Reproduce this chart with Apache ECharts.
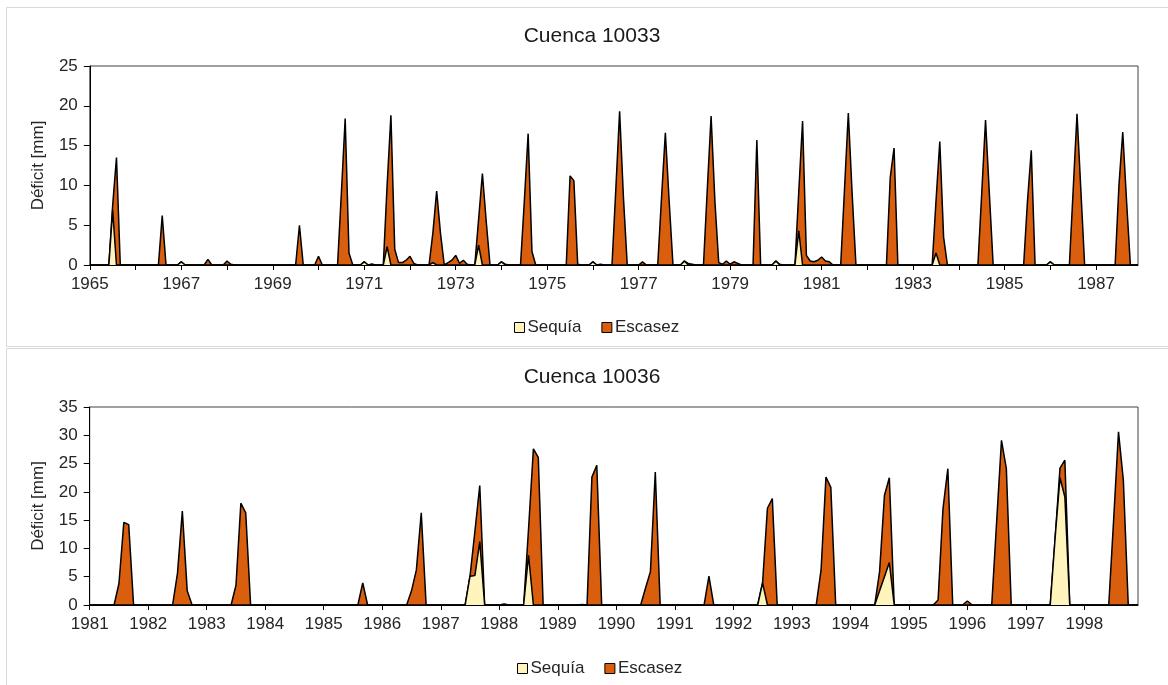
<!DOCTYPE html>
<html>
<head>
<meta charset="utf-8">
<script src="https://cdn.jsdelivr.net/npm/echarts@6/dist/echarts.min.js"></script>
<style>
html,body{margin:0;padding:0;background:#fff;}
#chart{width:1168px;height:685px;}
</style>
</head>
<body>
<div id="chart"></div>
<script>
// ---------- Cuenca 10033 (monthly, Jan 1965 - Dec 1987) ----------
const years1 = [1965,1966,1967,1968,1969,1970,1971,1972,1973,1974,1975,1976,1977,1978,1979,1980,1981,1982,1983,1984,1985,1986,1987];
const escasez1 = [
  0,0,0,0,0,0,7.5,13.5,0,0,0,0,          // 1965
  0,0,0,0,0,0,0,6.2,0,0,0,0,             // 1966
  0.4,0,0,0,0,0,0,0.7,0,0,0,0,           // 1967
  0.5,0.1,0,0,0,0,0,0,0,0,0,0,           // 1968
  0,0,0,0,0,0,0,5.0,0,0,0,0,             // 1969
  1.1,0,0,0,0,0,9,18.4,1.5,0,0,0,        // 1970
  0.4,0,0.1,0,0,0,10,18.8,2,0.3,0.3,0.6, // 1971
  1.1,0.2,0,0,0,0,4,9.3,4,0,0.3,0.6,     // 1972
  1.2,0.2,0.6,0.1,0,0,5.7,11.5,5.5,0,0,0,// 1973
  0.4,0.1,0,0,0,0,8,16.5,1.7,0,0,0,      // 1974
  0,0,0,0,0,0,11.2,10.6,0.1,0,0,0,       // 1975
  0.4,0,0.1,0,0,0,9.5,19.3,8.5,0,0,0,    // 1976
  0,0.4,0,0,0,0,8.5,16.6,8,0,0,0,        // 1977
  0.5,0.2,0.1,0,0,0,9.5,18.7,8,0.3,0.1,0.5, // 1978
  0.1,0.4,0.2,0,0,0,0,15.7,0,0,0,0,      // 1979
  0.5,0.1,0,0,0,0,9.2,18.1,1.2,0.5,0.4,0.6, // 1980
  1.0,0.5,0.4,0,0,0,9.5,19.1,9,0,0,0,    // 1981
  0,0,0,0,0,0,11,14.7,0,0,0,0,           // 1982
  0,0,0,0,0,0,8,15.5,3.5,0,0,0,          // 1983
  0,0,0,0,0,0,9,18.2,9,0,0,0,            // 1984
  0,0,0,0,0,0,8,14.4,0,0,0,0,            // 1985
  0.4,0,0,0,0,0,9.5,19,9.5,0,0,0,        // 1986
  0,0,0,0,0,0,10,16.7,8,0,0,0            // 1987
];
const sequia1 = [
  0,0,0,0,0,0,6.9,0,0,0,0,0,   // 1965
  0,0,0,0,0,0,0,0,0,0,0,0,     // 1966
  0.4,0,0,0,0,0,0,0,0,0,0,0,   // 1967
  0,0,0,0,0,0,0,0,0,0,0,0,     // 1968
  0,0,0,0,0,0,0,0,0,0,0,0,     // 1969
  0,0,0,0,0,0,0,0,0,0,0,0,     // 1970
  0.4,0,0.1,0,0,0,2.3,0,0,0,0,0, // 1971
  0,0,0,0,0,0,0.3,0,0,0,0,0,   // 1972
  0,0,0,0,0,0,2.5,0,0,0,0,0,   // 1973
  0.4,0,0,0,0,0,0,0,0,0,0,0,   // 1974
  0,0,0,0,0,0,0,0,0,0,0,0,     // 1975
  0.4,0,0,0,0,0,0,0,0,0,0,0,   // 1976
  0,0,0,0,0,0,0,0,0,0,0,0,     // 1977
  0.5,0,0,0,0,0,0,0,0,0,0,0,   // 1978
  0,0,0,0,0,0,0,0,0,0,0,0,     // 1979
  0.5,0,0,0,0,0,4.3,0,0,0,0,0, // 1980
  0,0,0,0,0,0,0,0,0,0,0,0,     // 1981
  0,0,0,0,0,0,0,0,0,0,0,0,     // 1982
  0,0,0,0,0,0,1.5,0,0,0,0,0,   // 1983
  0,0,0,0,0,0,0,0,0,0,0,0,     // 1984
  0,0,0,0,0,0,0,0,0,0,0,0,     // 1985
  0.4,0,0,0,0,0,0,0,0,0,0,0,   // 1986
  0,0,0,0,0,0,0,0,0,0,0,0      // 1987
];

// ---------- Cuenca 10036 (monthly, Jan 1981 - Dec 1998) ----------
const years2 = [1981,1982,1983,1984,1985,1986,1987,1988,1989,1990,1991,1992,1993,1994,1995,1996,1997,1998];
const escasez2 = [
  0,0,0,0,0,0,3.8,14.6,14.2,0,0,0,     // 1981
  0,0,0,0,0,0,5.6,16.6,2.5,0,0,0,      // 1982
  0,0,0,0,0,0,3.5,18.0,16.3,0,0,0,     // 1983
  0,0,0,0,0,0,0,0,0,0,0,0,             // 1984
  0,0,0,0,0,0,0,0,3.9,0,0,0,           // 1985
  0,0,0,0,0,0,2.5,6.2,16.3,0,0,0,      // 1986
  0,0,0,0,0,0,5.1,13,21.1,0,0,0,       // 1987
  0,0.15,0,0,0,0,13.4,27.6,26.1,0,0,0, // 1988
  0,0,0,0,0,0.1,0,22.6,24.7,0,0,0,     // 1989
  0,0,0,0,0,0,3,5.9,23.5,0,0,0,        // 1990
  0,0,0,0,0,0,0,5.1,0,0,0,0,           // 1991
  0,0,0,0,0,0,3.9,17.1,18.8,0,0,0,     // 1992
  0,0,0,0,0,0,6.2,22.6,20.8,0,0,0,     // 1993
  0,0,0,0,0,0,5.9,19.4,22.5,0,0,0,     // 1994
  0,0,0,0,0,0,0.9,17,24.1,0,0,0,       // 1995
  0.7,0,0,0,0,0,14.6,29.1,24.1,0,0,0,  // 1996
  0,0,0,0,0,0,11.8,24.2,25.6,0,0,0,    // 1997
  0,0,0,0,0,0,15,30.6,22,0,0,0         // 1998
];
const sequia2 = [
  0,0,0,0,0,0,0,0,0,0,0,0,       // 1981
  0,0,0,0,0,0,0,0,0,0,0,0,       // 1982
  0,0,0,0,0,0,0,0,0,0,0,0,       // 1983
  0,0,0,0,0,0,0,0,0,0,0,0,       // 1984
  0,0,0,0,0,0,0,0,0,0,0,0,       // 1985
  0,0,0,0,0,0,0,0,0,0,0,0,       // 1986
  0,0,0,0,0,0,5.1,5.2,11.2,0,0,0,// 1987
  0,0.15,0,0,0,0,8.8,0,0,0,0,0,  // 1988
  0,0,0,0,0,0,0,0,0,0,0,0,       // 1989
  0,0,0,0,0,0,0,0,0,0,0,0,       // 1990
  0,0,0,0,0,0,0,0,0,0,0,0,       // 1991
  0,0,0,0,0,0,3.9,0,0,0,0,0,     // 1992
  0,0,0,0,0,0,0,0,0,0,0,0,       // 1993
  0,0,0,0,0,0,2.5,5,7.5,0,0,0,   // 1994
  0,0,0,0,0,0,0,0,0,0,0,0,       // 1995
  0,0,0,0,0,0,0,0,0,0,0,0,       // 1996
  0,0,0,0,0,0,11.8,22.5,19.1,0,0,0, // 1997
  0,0,0,0,0,0,0,0,0,0,0,0        // 1998
];

const titles = ['Cuenca 10033', 'Cuenca 10036'];
const yName = 'Déficit [mm]';
const seriesNames = ['Sequía', 'Escasez'];

function months(years){
  const out = [];
  years.forEach(y => { for (let m = 1; m <= 12; m++) out.push(y + '-' + (m < 10 ? '0' + m : m)); });
  return out;
}
const cats1 = months(years1);
const cats2 = months(years2);

const FONT = 'Liberation Sans';
const TXT = '#262626';
const C_SEQ = '#FFF5BC';
const C_ESC = '#D95F0E';

function xAxis(gridIndex, cats, labelEvery){
  return {
    type: 'category', gridIndex, data: cats, boundaryGap: false,
    axisLine: {lineStyle: {color: '#000', width: 1}},
    axisTick: {show: true, length: 5, interval: (i) => i % 12 === 0, lineStyle: {color: '#000'}},
    axisLabel: {interval: (i) => i % (12 * labelEvery) === 0, formatter: v => v.slice(0, 4),
      color: TXT, fontFamily: FONT, fontSize: 17, margin: 11},
    splitLine: {show: false}
  };
}
function yAxis(gridIndex, max){
  return {
    type: 'value', gridIndex, min: 0, max, interval: 5,
    name: yName, nameLocation: 'middle', nameGap: 43,
    nameTextStyle: {color: TXT, fontFamily: FONT, fontSize: 17},
    axisLine: {show: true, lineStyle: {color: '#000', width: 1}},
    axisTick: {show: true, length: 6, lineStyle: {color: '#000'}},
    axisLabel: {color: TXT, fontFamily: FONT, fontSize: 17, margin: 12},
    splitLine: {show: false}
  };
}
function area(name, data, idx, color, z){
  return {
    name, type: 'line', xAxisIndex: idx, yAxisIndex: idx, data,
    symbol: 'none', smooth: false, z,
    lineStyle: {color: '#000', width: 1.5},
    itemStyle: {color: color, borderColor: '#000', borderWidth: 1},
    areaStyle: {color: color, opacity: 1}
  };
}

const chart = echarts.init(document.getElementById('chart'), null, {renderer: 'canvas'});
chart.setOption({
  backgroundColor: '#fff',
  animation: false,
  graphic: [
    {type: 'rect', shape: {x: 6.5, y: 7.5, width: 1180, height: 339}, style: {fill: 'none', stroke: '#d9d9d9', lineWidth: 1}, z: -10},
    {type: 'rect', shape: {x: 6.5, y: 348.5, width: 1180, height: 400}, style: {fill: 'none', stroke: '#d9d9d9', lineWidth: 1}, z: -10}
  ],
  title: [
    {text: titles[0], left: 587, top: 21, textAlign: 'center', textStyle: {fontFamily: FONT, fontSize: 21, fontWeight: 'normal', color: '#1a1a1a'}},
    {text: titles[1], left: 587, top: 362, textAlign: 'center', textStyle: {fontFamily: FONT, fontSize: 21, fontWeight: 'normal', color: '#1a1a1a'}}
  ],
  legend: [
    {data: seriesNames, left: 509, top: 314, icon: 'rect', itemWidth: 10, itemHeight: 10, itemGap: 20,
     textStyle: {fontFamily: FONT, fontSize: 17, color: TXT, padding: [0, 0, 0, -2]},
     itemStyle: {borderColor: '#000', borderWidth: 1}},
    {data: seriesNames, left: 512, top: 655, icon: 'rect', itemWidth: 10, itemHeight: 10, itemGap: 20,
     textStyle: {fontFamily: FONT, fontSize: 17, color: TXT, padding: [0, 0, 0, -2]},
     itemStyle: {borderColor: '#000', borderWidth: 1}}
  ],
  grid: [
    {left: 89.8, right: 30, top: 66, height: 199, show: true, borderColor: '#404040', borderWidth: 1, backgroundColor: '#fff'},
    {left: 89.7, right: 30, top: 407, height: 198, show: true, borderColor: '#404040', borderWidth: 1, backgroundColor: '#fff'}
  ],
  xAxis: [xAxis(0, cats1, 2), xAxis(1, cats2, 1)],
  yAxis: [yAxis(0, 25), yAxis(1, 35)],
  series: [
    area(seriesNames[1], escasez1, 0, C_ESC, 2),
    area(seriesNames[0], sequia1, 0, C_SEQ, 3),
    area(seriesNames[1], escasez2, 1, C_ESC, 2),
    area(seriesNames[0], sequia2, 1, C_SEQ, 3)
  ]
});
</script>
</body>
</html>
